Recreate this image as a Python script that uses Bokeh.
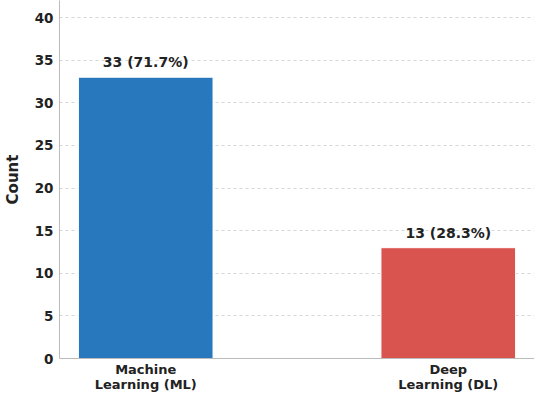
from bokeh.plotting import figure
from bokeh.models import ColumnDataSource, FixedTicker, Range1d
from bokeh.embed import file_html
from bokeh.resources import INLINE
from bokeh.core.properties import value

categories = ["Machine\nLearning (ML)", "Deep\nLearning (DL)"]
counts = [33, 13]
percents = [71.7, 28.3]
colors = ["#2878bd", "#d9534f"]
y_ticks = [0, 5, 10, 15, 20, 25, 30, 35, 40]

xs = list(range(len(categories)))
labels = [f"{c} ({p}%)" for c, p in zip(counts, percents)]
src = ColumnDataSource(dict(x=xs, top=counts, color=colors, label=labels,
                            ly=[c + 0.8 for c in counts]))

p = figure(width=534, height=394, output_backend="svg", toolbar_location=None,
           x_range=Range1d(-0.285, 1.285), y_range=Range1d(0, 42.0),
           min_border_left=0, min_border_right=0, min_border_top=0, min_border_bottom=0)
p.vbar(x="x", top="top", width=0.445, color="color", line_color="white", line_width=1, source=src)
p.text(x="x", y="ly", text="label", source=src, text_align="center", text_baseline="bottom",
       text_font=value("DejaVu Sans"), text_font_style="bold", text_font_size="14px", text_color="#222222")

p.outline_line_color = None
p.xgrid.grid_line_color = None
p.ygrid.grid_line_color = "#cccccc"
p.ygrid.grid_line_dash = "3 3"
p.ygrid.grid_line_width = 0.8

p.yaxis.ticker = FixedTicker(ticks=y_ticks)
p.xaxis.ticker = FixedTicker(ticks=xs)
p.xaxis.major_label_overrides = {i: c for i, c in enumerate(categories)}

for ax in (p.xaxis[0], p.yaxis[0]):
    ax.major_label_text_font = "DejaVu Sans"
    ax.major_label_text_font_style = "bold"
    ax.major_label_text_font_size = "13.5px"
    ax.major_label_text_color = "#222222"
    ax.major_tick_line_color = None
    ax.minor_tick_line_color = None
    ax.major_tick_out = 0
    ax.major_tick_in = 0
    ax.minor_tick_out = 0
    ax.minor_tick_in = 0
    ax.axis_line_color = "#bbbbbb"

p.xaxis.major_label_text_font_size = "13px"
p.xaxis.major_label_text_line_height = 1.0
p.yaxis.major_label_standoff = 6
p.xaxis.major_label_standoff = 3

p.yaxis.axis_label = "Count"
p.yaxis.axis_label_text_font = "DejaVu Sans"
p.yaxis.axis_label_text_font_style = "bold"
p.yaxis.axis_label_text_font_size = "15px"
p.yaxis.axis_label_text_color = "#222222"
p.yaxis.axis_label_standoff = 10

open("out.html", "w").write(file_html(p, INLINE))
